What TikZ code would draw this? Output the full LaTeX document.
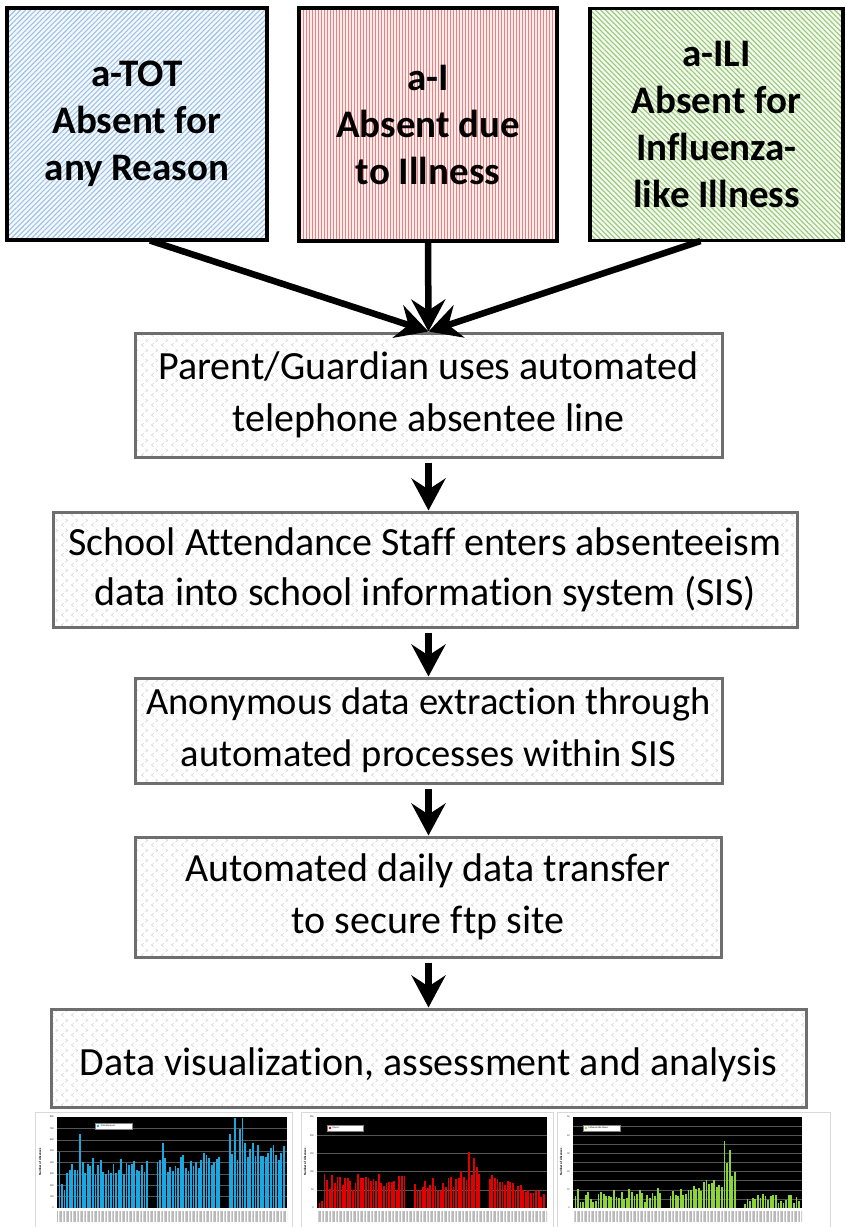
\documentclass[tikz,border=0pt]{standalone}
\usepackage{fontspec}
\setmainfont{Carlito}[Ligatures=NoCommon]
\usetikzlibrary{arrows.meta,patterns,patterns.meta}

\definecolor{bluel}{HTML}{9DC2E6}
\definecolor{bluebg}{HTML}{F4F8FC}
\definecolor{redl}{HTML}{EC7F80}
\definecolor{redbg}{HTML}{FDEDED}
\definecolor{greenl}{HTML}{98C878}
\definecolor{greenbg}{HTML}{F3F9EE}
\definecolor{boxgray}{HTML}{6E6E6E}
\definecolor{chevc}{HTML}{D2D2D2}
\definecolor{cyanbar}{HTML}{1BA8E0}
\definecolor{redbar}{HTML}{E30000}
\definecolor{greenbar}{HTML}{8DD43A}
\definecolor{gridc}{HTML}{555555}

\pgfdeclarepatternformonly{chev}{\pgfqpoint{0pt}{0pt}}{\pgfqpoint{10pt}{10pt}}{\pgfqpoint{10pt}{10pt}}{%
  \pgfsetlinewidth{0.6pt}%
  \pgfpathmoveto{\pgfqpoint{4pt}{0.5pt}}\pgfpathlineto{\pgfqpoint{1.5pt}{2.2pt}}\pgfpathlineto{\pgfqpoint{4pt}{4pt}}%
  \pgfpathmoveto{\pgfqpoint{6pt}{5.5pt}}\pgfpathlineto{\pgfqpoint{8.5pt}{7.2pt}}\pgfpathlineto{\pgfqpoint{6pt}{9pt}}%
  \pgfusepath{stroke}}

\tikzset{
  topbox/.style={draw=black, line width=3.5pt, align=center, inner sep=0pt,
    font=\fontsize{39}{47}\selectfont\bfseries},
  flowbox/.style={draw=boxgray, line width=3pt, align=center, inner sep=0pt,
    font=\fontsize{40}{52}\selectfont,
    preaction={fill=white}, preaction={pattern=chev, pattern color=chevc}},
  arr/.style={line width=6.5pt, -{Stealth[length=32pt,width=34pt,inset=11pt]}},
  tick/.style={font=\fontsize{2.6}{3}\selectfont, inner sep=0pt, anchor=east, text=black!80},
  ylab/.style={font=\fontsize{3.2}{3.5}\selectfont\bfseries, inner sep=0pt, rotate=90},
  legtxt/.style={font=\fontsize{2.4}{3}\selectfont, inner sep=0pt, anchor=west},
  plotbg/.style={fill=black},
  grid/.style={draw=gridc, line width=0.45pt},
  frame/.style={draw=gray!30, line width=0.6pt},
  dates/.style={pattern={Lines[angle=90,distance=1.4pt,line width=0.35pt]}, pattern color=gray!55}
}

\begin{document}
\begin{tikzpicture}[x=1pt,y=-1pt]
\useasboundingbox (0,0) rectangle (846,1227);

% ---- top category boxes
\node[topbox, minimum width=260pt, minimum height=232pt,
  preaction={fill=bluebg}, pattern={Lines[angle=45,distance=3.6pt,line width=1.1pt]}, pattern color=bluel]
  (tot) at (137,124) {a-TOT\\Absent for\\any Reason};
\node[topbox, minimum width=258pt, minimum height=233pt,
  preaction={fill=redbg}, pattern={Lines[angle=90,distance=3pt,line width=1pt]}, pattern color=redl]
  (ai) at (428,124.5) {a-I\\Absent due\\to Illness};
\node[topbox, minimum width=253pt, minimum height=232pt,
  preaction={fill=greenbg}, pattern={Lines[angle=-45,distance=3.6pt,line width=1.1pt]}, pattern color=greenl]
  (ili) at (716.5,124.5) {a-ILI\\Absent for\\Influenza-\\like Illness};

% ---- flow boxes
\node[flowbox, minimum width=587pt, minimum height=124pt] (parent) at (428.5,395)
  {Parent/Guardian uses automated\\telephone absentee line};
\node[flowbox, minimum width=744pt, minimum height=115pt,
  font=\fontsize{40}{50}\selectfont] (school) at (425,569.5)
  {School Attendance Staff enters absenteeism\\data into school information system (SIS)};
\node[flowbox, minimum width=587pt, minimum height=105pt,
  font=\fontsize{38.5}{52}\selectfont] (anon) at (428.5,730.5)
  {Anonymous data extraction through\\automated processes within SIS};
\node[flowbox, minimum width=586pt, minimum height=120pt] (auto) at (428,897)
  {Automated daily data transfer\\to secure ftp site};
\node[flowbox, minimum width=755pt, minimum height=98pt, text height=34pt, text depth=0pt] (data) at (428.5,1058)
  {Data visualization, assessment and analysis};

% ---- connectors
\draw[arr] ([xshift=13pt]tot.south) -- (parent.north);
\draw[arr] (ai.south) -- (parent.north);
\draw[arr] ([xshift=-16pt]ili.south) -- (parent.north);
\draw[arr, shorten <=4pt] (parent.south) -- (parent.south |- school.north);
\draw[arr, shorten <=4pt] (parent.south |- school.south) -- (parent.south |- anon.north);
\draw[arr, shorten <=4pt] (anon.south) -- (anon.south |- auto.north);
\draw[arr, shorten <=4pt] (anon.south |- auto.south) -- (anon.south |- data.north);

% ---- chart 1 : total absences
\draw[frame] (35,1230) -- (35,1112) -- (292,1112) -- (292,1230);
\fill[plotbg] (57,1117) rectangle (287,1208);
\foreach \k in {1,...,7} \draw[grid] (57,{1208-\k*91/8}) -- (287,{1208-\k*91/8});
\pgfmathsetseed{11}
\foreach \i in {0,...,34,38,39,...,62,66,67,...,87}{
  \ifnum\i<3 \def\bb{150}\else\ifnum\i<35 \def\bb{280}\else\ifnum\i<63 \def\bb{320}\else\def\bb{420}\fi\fi\fi
  \pgfmathsetmacro{\rr}{170*rnd}
  \pgfmathsetmacro{\ss}{rnd}
  \ifdim\ss pt>0.86pt \def\spk{230}\else\def\spk{0}\fi
  \pgfmathsetmacro{\hh}{min(\bb+\rr+\spk,795)/800*91}
  \fill[cyanbar] ({58.5+\i*2.58},1208) rectangle ++(1.8,-\hh);
}
\foreach \k/\t in {0/0,1/100,2/200,3/300,4/400,5/500,6/600,7/700,8/800}
  \node[tick] (ta\k) at (54,{1208-\k*91/8}) {\t};
\node[ylab] (ya) at (40,1162) {Number of Absences};
\fill[dates] (57,1211) rectangle (287,1222);
\draw[fill=white, draw=gray, line width=0.3pt] (95,1123) rectangle (132,1129);
\fill[cyanbar] (98,1126) circle (1.3);
\node[legtxt] (la) at (100.5,1126) {Total Absences};

% ---- chart 2 : illness
\draw[frame] (301,1230) -- (301,1112) -- (553,1112) -- (553,1230);
\fill[plotbg] (317,1117) rectangle (547,1208);
\foreach \k in {1,...,4} \draw[grid] (317,{1208-\k*91/5}) -- (547,{1208-\k*91/5});
\pgfmathsetseed{23}
\foreach \i in {0,...,33,37,38,...,62,66,67,...,87}{
  \pgfmathsetmacro{\rr}{rnd}
  \ifnum\i<2 \pgfmathsetmacro{\vv}{15+10*\rr}\else
   \ifnum\i<34 \pgfmathsetmacro{\vv}{50+45*\rr}\else
    \ifnum\i<63 \pgfmathsetmacro{\vv}{45+40*\rr+max(0,\i-48)*2.5}\else
     \pgfmathsetmacro{\vv}{max(8,72-(\i-66)*2.2+20*\rr)}\fi\fi\fi
  \ifnum\i=58 \def\vv{153}\fi
  \ifnum\i=60 \def\vv{137}\fi
  \pgfmathsetmacro{\hh}{\vv/250*91}
  \fill[redbar] ({318.5+\i*2.58},1208) rectangle ++(1.8,-\hh);
}
\foreach \k/\t in {0/0,1/50,2/100,3/150,4/200,5/250}
  \node[tick] (tb\k) at (314,{1208-\k*91/5}) {\t};
\node[ylab] (yb) at (305,1162) {Number of Absences};
\fill[dates] (317,1211) rectangle (547,1222);
\draw[fill=white, draw=gray, line width=0.3pt] (327,1125) rectangle (363,1131);
\fill[redbar] (330,1128) circle (1.3);
\node[legtxt] (lb) at (332.5,1128) {Illness};

% ---- chart 3 : influenza-like illness
\draw[frame] (557,1230) -- (557,1112) -- (830,1112) -- (830,1230);
\fill[plotbg] (573,1117) rectangle (802,1208);
\foreach \k in {1,...,9} \draw[grid] (573,{1208-\k*91/10}) -- (802,{1208-\k*91/10});
\pgfmathsetseed{5}
\foreach \i in {0,...,33,37,38,...,62,66,67,...,87}{
  \pgfmathsetmacro{\rr}{rnd}
  \ifnum\i<34 \pgfmathsetmacro{\vv}{3+8*\rr}\else
   \ifnum\i<63 \pgfmathsetmacro{\vv}{4+(\i-37)*0.35+7*\rr}\else
    \pgfmathsetmacro{\vv}{2+6*\rr}\fi\fi
  \ifnum\i=58 \def\vv{37}\fi
  \ifnum\i=59 \def\vv{25}\fi
  \ifnum\i=60 \def\vv{32}\fi
  \pgfmathsetmacro{\hh}{\vv/50*91}
  \fill[greenbar] ({574.5+\i*2.57},1208) rectangle ++(1.8,-\hh);
}
\foreach \k/\t in {0/0,2/10,4/20,6/30,8/40,10/50}
  \node[tick] (tc\k) at (570,{1208-\k*91/10}) {\t};
\node[ylab] (yc) at (561,1162) {Number of Absences};
\fill[dates] (573,1211) rectangle (802,1222);
\draw[fill=white, draw=gray, line width=0.3pt] (583,1125) rectangle (620,1131);
\fill[greenbar] (586,1128) circle (1.3);
\node[legtxt] (lc) at (588.5,1128) {Influenza-like Illness};

\end{tikzpicture}
\end{document}
